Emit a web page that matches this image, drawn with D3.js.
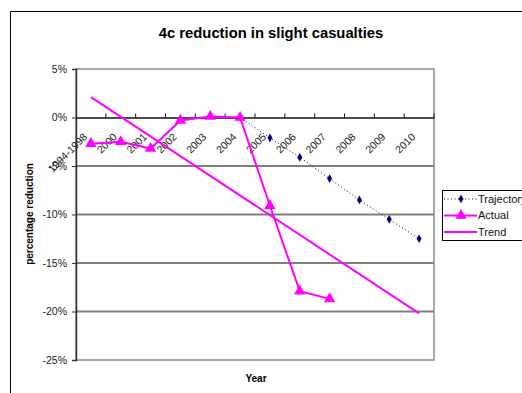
<!DOCTYPE html>
<meta charset="utf-8">
<style>
    body { margin: 0; background: #fff; }
    text { font-family: "Liberation Sans", Arial, sans-serif; }
</style>
<svg width="522" height="393"></svg>
<script src="https://d3js.org/d3.v7.min.js"></script>
<script>
    // data
    var years = ["1994-1998", "2000", "2001", "2002", "2003", "2004",
                 "2005", "2006", "2007", "2008", "2009", "2010"];
    var actual = [-2.7, -2.5, -3.2, -0.3, 0.1, 0.0, -9.1, -17.9, -18.7];
    var trajectoryYears = ["2004", "2005", "2006", "2007", "2008", "2009", "2010"];
    var trajectory = [0.0, -2.1, -4.1, -6.3, -8.5, -10.5, -12.5];
    var trendYears = ["1994-1998", "2010"];
    var trend = [2.1, -20.2];
    var yTicks = [5, 0, -5, -10, -15, -20, -25];
</script>

<script>
    var svg = d3.select("svg");
    var plot = {left: 76, right: 434, top: 69, bottom: 360};

    var x = d3.scaleBand().domain(years).range([plot.left, plot.right]);
    var y = d3.scaleLinear().domain([-25, 5]).range([plot.bottom, plot.top]);
    var cx = function (d) { return x(d) + x.bandwidth() / 2; };

    // chart frame
    svg.append("path")
        .attr("d", "M10.5,393V11.5H522")
        .attr("fill", "none")
        .attr("stroke", "#000")
        .attr("stroke-width", 1);

    // plot area border
    svg.append("rect")
        .attr("x", plot.left).attr("y", plot.top)
        .attr("width", plot.right - plot.left).attr("height", plot.bottom - plot.top)
        .attr("fill", "none").attr("stroke", "#8c8c8c").attr("stroke-width", 1.5);

    // gridlines
    svg.append("g").selectAll("line")
        .data(yTicks.filter(function (d) { return d !== 0 && d !== -25 && d !== 5; }))
        .enter().append("line")
        .attr("x1", plot.left).attr("x2", plot.right)
        .attr("y1", y).attr("y2", y)
        .attr("stroke", "#7f7f7f").attr("stroke-width", 2);

    // y axis
    var yAxis = svg.append("g")
        .attr("transform", "translate(" + plot.left + ",0)")
        .call(d3.axisLeft(y).tickValues(yTicks).tickSize(4).tickPadding(5)
            .tickFormat(function (d) { return d + "%"; }));
    yAxis.select(".domain").attr("stroke", "#333").attr("stroke-width", 1.5);
    yAxis.selectAll(".tick line").attr("stroke", "#333");
    yAxis.selectAll("text").attr("font-size", 10.5).attr("fill", "#222")
        .style("font-family", "Liberation Sans, Arial, sans-serif");

    // x axis on the 0% line
    var xAxis = svg.append("g")
        .attr("transform", "translate(0," + y(0) + ")")
        .call(d3.axisBottom(x).tickSize(0).tickSizeOuter(0));
    xAxis.select(".domain").attr("stroke", "#111").attr("stroke-width", 1.5);
    xAxis.selectAll(".tick text")
        .attr("font-size", 10.5).attr("fill", "#222")
        .style("font-family", "Liberation Sans, Arial, sans-serif")
        .attr("text-anchor", "end")
        .attr("x", 0).attr("y", 0).attr("dy", 0)
        .attr("transform", "translate(-3,20) rotate(-45)");
    // tick marks at category boundaries
    svg.append("g").selectAll("line")
        .data(years.slice(1).concat(["end"]))
        .enter().append("line")
        .attr("x1", function (d, i) { return x(years[0]) + x.bandwidth() * (i + 1); })
        .attr("x2", function (d, i) { return x(years[0]) + x.bandwidth() * (i + 1); })
        .attr("y1", y(0) - 4).attr("y2", y(0))
        .attr("stroke", "#111");

    // trend
    var line = d3.line()
        .x(function (d) { return cx(d[0]); })
        .y(function (d) { return y(d[1]); });
    svg.append("path")
        .attr("d", line(d3.zip(trendYears, trend)))
        .attr("fill", "none").attr("stroke", "#ff00ff").attr("stroke-width", 2);

    // trajectory
    var traj = d3.zip(trajectoryYears, trajectory);
    svg.append("path")
        .attr("d", line(traj))
        .attr("fill", "none").attr("stroke", "#000080").attr("stroke-width", 1)
        .attr("stroke-dasharray", "1,2.5");
    var diamond = d3.symbol().type(d3.symbolDiamond).size(22);
    svg.append("g").selectAll("path")
        .data(traj.slice(1))
        .enter().append("path")
        .attr("d", diamond)
        .attr("transform", function (d) { return "translate(" + cx(d[0]) + "," + y(d[1]) + ")"; })
        .attr("fill", "#000080");

    // actual
    var act = d3.zip(years.slice(0, actual.length), actual);
    svg.append("path")
        .attr("d", line(act))
        .attr("fill", "none").attr("stroke", "#ff00ff").attr("stroke-width", 2);
    var tri = d3.symbol().type(d3.symbolTriangle).size(56);
    svg.append("g").selectAll("path")
        .data(act)
        .enter().append("path")
        .attr("d", tri)
        .attr("transform", function (d) { return "translate(" + cx(d[0]) + "," + y(d[1]) + ")"; })
        .attr("fill", "#ff00ff");

    // titles
    svg.append("text")
        .attr("x", 271).attr("y", 38)
        .attr("text-anchor", "middle")
        .attr("font-size", 14.8).attr("font-weight", "bold")
        .text("4c reduction in slight casualties");
    svg.append("text")
        .attr("x", 256).attr("y", 382)
        .attr("text-anchor", "middle")
        .attr("font-size", 10).attr("font-weight", "bold")
        .text("Year");
    svg.append("text")
        .attr("transform", "translate(33,214) rotate(-90)")
        .attr("text-anchor", "middle")
        .attr("font-size", 10).attr("font-weight", "bold")
        .text("percentage reduction");

    // legend
    var legend = svg.append("g").attr("transform", "translate(442,190)");
    legend.append("rect")
        .attr("x", 0.5).attr("y", 0.5).attr("width", 100).attr("height", 50)
        .attr("fill", "#fff").attr("stroke", "#000");
    var items = [
        {name: "Trajectory", color: "#000080", dash: "1,2.5", width: 1, sym: diamond},
        {name: "Actual", color: "#ff00ff", dash: null, width: 2, sym: tri},
        {name: "Trend", color: "#ff00ff", dash: null, width: 2, sym: null}
    ];
    var row = legend.selectAll(".item").data(items).enter().append("g")
        .attr("transform", function (d, i) { return "translate(0," + (9 + i * 16.5) + ")"; });
    row.append("line")
        .attr("x1", 2).attr("x2", 35)
        .attr("stroke", function (d) { return d.color; })
        .attr("stroke-width", function (d) { return d.width; })
        .attr("stroke-dasharray", function (d) { return d.dash; });
    row.filter(function (d) { return d.sym; }).append("path")
        .attr("d", function (d) { return d.sym(); })
        .attr("transform", "translate(19,0)")
        .attr("fill", function (d) { return d.color; });
    row.append("text")
        .attr("x", 36).attr("dy", "0.35em")
        .attr("font-size", 11).attr("fill", "#111")
        .text(function (d) { return d.name; });
</script>
